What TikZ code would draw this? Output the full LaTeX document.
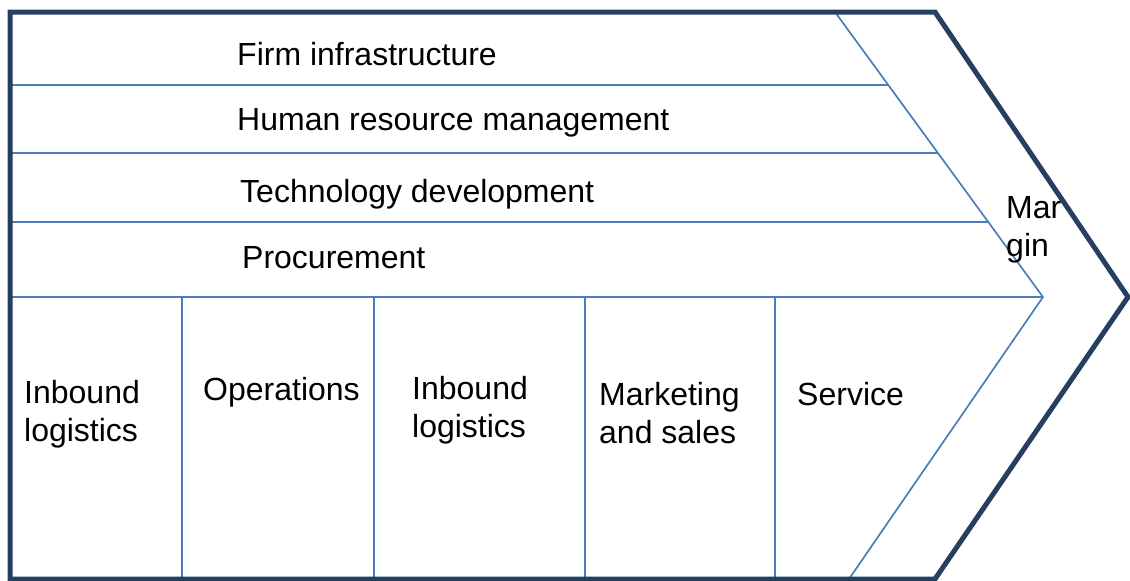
\documentclass[tikz,border=0pt]{standalone}
\usepackage{fontspec}
\setmainfont{Liberation Sans}
\usetikzlibrary{calc}
\definecolor{chainframe}{HTML}{243F60}
\definecolor{chainrule}{HTML}{4A7EBB}
\begin{document}
\begin{tikzpicture}[x=1pt,y=-1pt,
  rulefine/.style={draw=chainrule,line width=1.7pt},
  outline/.style={draw=chainframe,line width=5pt,line join=miter},
  label/.style={anchor=base west,inner sep=0pt,font=\fontsize{32}{38}\selectfont,align=left,text=black}]
\useasboundingbox[fill=white] (0,0) rectangle (1130,581);

% inner chevron of the support rows
\coordinate (T) at (835,12);
\coordinate (P) at (1043,297);
\coordinate (B) at (849,579);
\draw[rulefine] (T) -- (P) -- (B);

% row separators
\coordinate (h1) at (10,85);
\coordinate (h2) at (10,153);
\coordinate (h3) at (10,222);
\coordinate (h4) at (10,297);
\draw[rulefine] (h1) -- ($(T)!0.2561!(P)$);
\draw[rulefine] (h2) -- ($(T)!0.4947!(P)$);
\draw[rulefine] (h3) -- ($(T)!0.7368!(P)$);
\draw[rulefine] (h4) -- (P);

% primary activity columns
\foreach \cx [count=\i] in {182,374,585,775} {
  \coordinate (c\i t) at (\cx,297);
  \coordinate (c\i b) at (\cx,579);
  \draw[rulefine] (c\i t) -- (c\i b);
}

% outer arrow frame
\coordinate (o1) at (10,12);
\coordinate (o2) at (935,12);
\coordinate (o3) at (1128,297);
\coordinate (o4) at (935,579);
\coordinate (o5) at (10,579);
\draw[outline] (o1) -- (o2) -- (o3) -- (o4) -- (o5) -- cycle;

% support activities
\node[label] (firm) at (237,65) {Firm infrastructure};
\node[label] (hrm)  at (237,130) {Human resource management};
\node[label] (tech) at (240,202) {Technology development};
\node[label] (proc) at (242,268) {Procurement};

% margin (base anchor sits on the last line)
\node[label] (margin) at (1006,256) {Mar\\gin};

% primary activities
\node[label] (inb)  at (24,441) {Inbound\\logistics};
\node[label] (ops)  at (203,400) {Operations};
\node[label] (outb) at (412,437) {Inbound\\logistics};
\node[label] (mkt)  at (599,443) {Marketing\\and sales};
\node[label] (serv) at (797,405) {Service};
\end{tikzpicture}
\end{document}
